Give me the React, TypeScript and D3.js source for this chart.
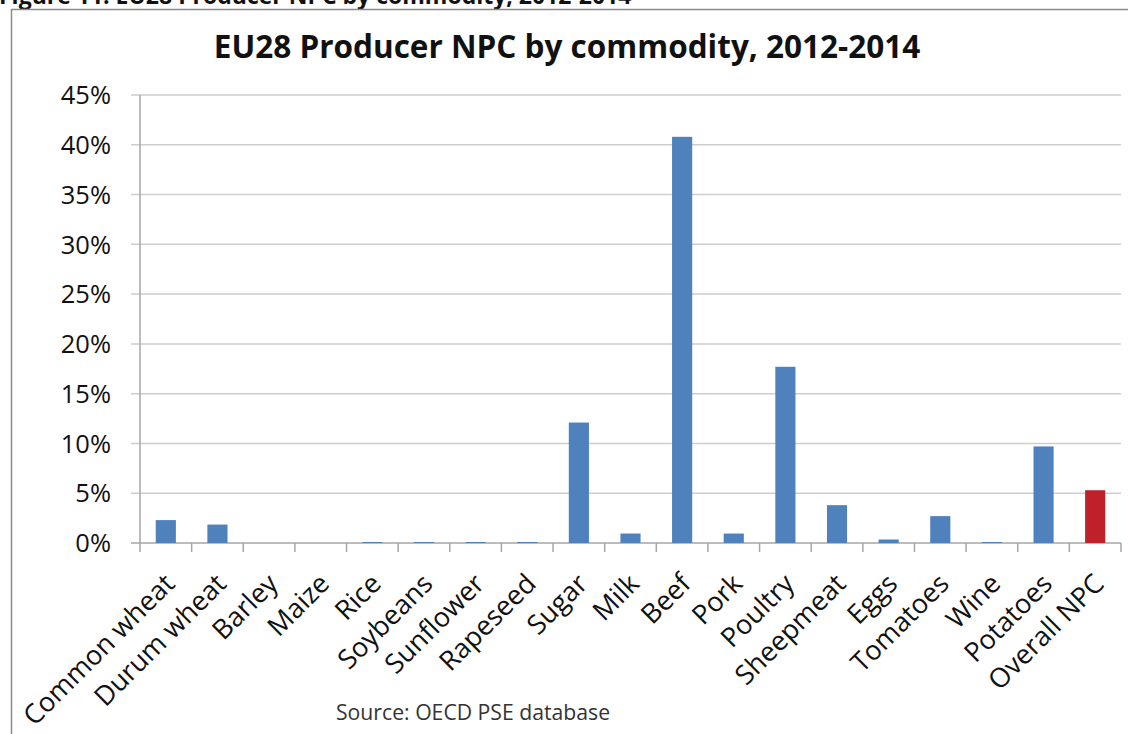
import React from "react";
import * as d3 from "d3";

const categories = [
  "Common wheat", "Durum wheat", "Barley", "Maize", "Rice", "Soybeans", "Sunflower",
  "Rapeseed", "Sugar", "Milk", "Beef", "Pork", "Poultry", "Sheepmeat", "Eggs",
  "Tomatoes", "Wine", "Potatoes", "Overall NPC",
];
const values = [2.3, 1.85, 0, 0, 0.1, 0.1, 0.1, 0.1, 12.1, 0.95, 40.8, 0.95, 17.7, 3.8, 0.35, 2.7, 0.1, 9.7, 5.3];
const highlight = ["Overall NPC"];
const yTicks = [0, 5, 10, 15, 20, 25, 30, 35, 40, 45];

const W = 1128, H = 734;
const FONT = "'Open Sans', 'Noto Sans', sans-serif";

export default function App() {
  const x = d3.scaleBand<string>().domain(categories).range([140, 1121]).padding(0);
  const y = d3.scaleLinear().domain([0, 45]).range([543, 95]);
  const barW = x.bandwidth() * 0.39;
  const boundaries = categories.map((c) => x(c) as number).concat([x.range()[1]]);

  return (
    <svg width={W} height={H} style={{ position: "absolute", left: 0, top: 0, display: "block", background: "#fff" }}>
      <text x={-1} y={4} fontFamily={FONT} fontWeight={700} fontSize={23} fill="#111">
        Figure 11: EU28 Producer NPC by commodity, 2012-2014
      </text>
      <path d={`M11.5,${H + 2} V9.5 H${W + 2}`} fill="none" stroke="#8a8a8a" strokeWidth={1.5} />
      <text x={567} y={58} textAnchor="middle" fontFamily={FONT} fontWeight={700} fontSize={31.5} fill="#111">
        EU28 Producer NPC by commodity, 2012-2014
      </text>
      {yTicks.map((t) => (
        <g key={t}>
          <line x1={131} x2={1121} y1={y(t)} y2={y(t)} stroke={t === 0 ? "#a6a6a6" : "#cdcdcd"} strokeWidth={1.5} />
          <text x={111} y={y(t)} dy="0.36em" textAnchor="end" fontFamily={FONT} fontSize={25.5} fill="#111">
            {t}%
          </text>
        </g>
      ))}
      <line x1={140} x2={140} y1={95} y2={552} stroke="#a6a6a6" strokeWidth={1.5} />
      {boundaries.slice(1).map((b, i) => (
        <line key={i} x1={b} x2={b} y1={543} y2={552} stroke="#a6a6a6" strokeWidth={1.5} />
      ))}
      {categories.map((c, i) => {
        const cx = (x(c) as number) + x.bandwidth() / 2;
        const v = values[i];
        return (
          <rect
            key={c}
            x={cx - barW / 2}
            y={y(v)}
            width={barW}
            height={y(0) - y(v)}
            fill={highlight.includes(c) ? "#c0202a" : "#4f81bd"}
          />
        );
      })}
      {categories.map((c) => {
        const cx = (x(c) as number) + x.bandwidth() / 2;
        return (
          <text
            key={c}
            transform={`translate(${cx - 3},${572}) rotate(-45)`}
            textAnchor="end"
            dy="0.7em"
            fontFamily={FONT}
            fontSize={27}
            fill="#111"
          >
            {c}
          </text>
        );
      })}
      <text x={336} y={720} fontFamily={FONT} fontSize={21.2} fill="#333">
        Source: OECD PSE database
      </text>
    </svg>
  );
}
